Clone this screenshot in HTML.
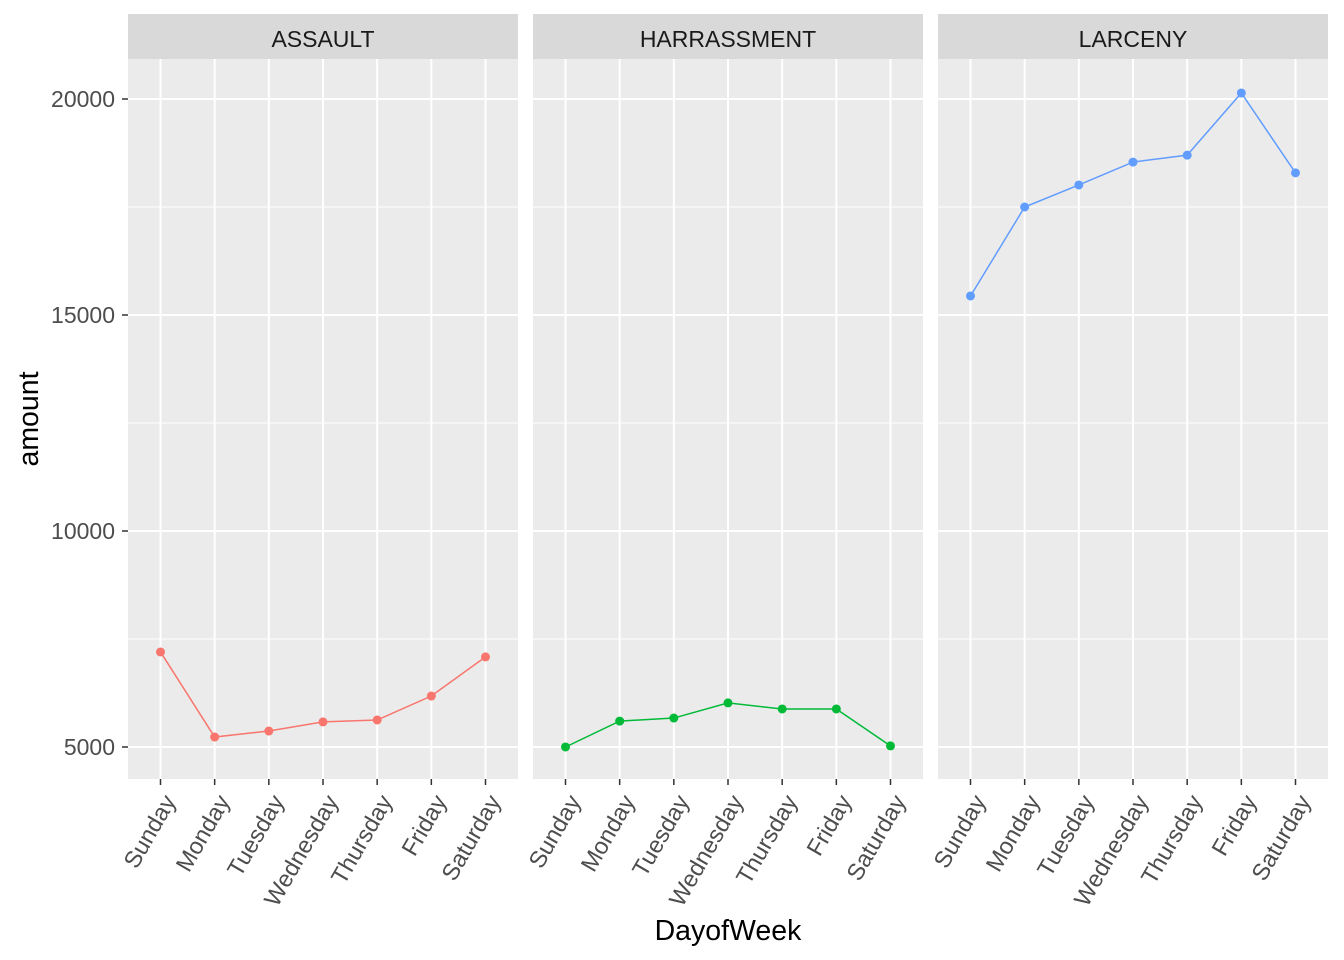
<!DOCTYPE html>
<html><head><meta charset="utf-8"><style>
body{margin:0;background:#fff;}
svg{display:block;font-family:"Liberation Sans",Arial,sans-serif;}
</style></head><body>
<svg id="chart" width="1344" height="960"></svg>
<script>
const categories=["Sunday","Monday","Tuesday","Wednesday","Thursday","Friday","Saturday"];
const panels=["ASSAULT","HARRASSMENT","LARCENY"];
const assaultValues=[7200,5230,5370,5580,5625,6180,7085];
const harassmentValues=[5000,5600,5670,6020,5880,5880,5025];
const larcenyValues=[15440,17500,18010,18540,18700,20140,18290];
const yTicks=[5000,10000,15000,20000];
const yMinor=[7500,12500,17500];
const colors=["#F8766D","#00BA38","#619CFF"];
const series=[assaultValues,harassmentValues,larcenyValues];

const NS="http://www.w3.org/2000/svg";
const svg=document.getElementById('chart');
function mk(t,a,p){const e=document.createElementNS(NS,t);for(const k in a)e.setAttribute(k,a[k]);(p||svg).appendChild(e);return e;}
const plotTop=59,plotBottom=779,yMin=4259,yMax=20926;
function y(v){return plotBottom-(v-yMin)/(yMax-yMin)*(plotBottom-plotTop);}
const panelX=[128,533,938],pw=390;
function x(p,i){return panelX[p]+(i+0.6)/7.2*pw;}

for(let p=0;p<3;p++){
  const g=mk('g',{});
  
  
  const bg=mk('rect',{x:panelX[p],y:plotTop,width:pw,height:plotBottom-plotTop,fill:'#EBEBEB'},g);
  
  
  yMinor.forEach(v=>{mk('line',{x1:panelX[p],x2:panelX[p]+pw,y1:y(v),y2:y(v),stroke:'#fff','stroke-width':1},g);});
  yTicks.forEach(v=>{mk('line',{x1:panelX[p],x2:panelX[p]+pw,y1:y(v),y2:y(v),stroke:'#fff','stroke-width':2},g);});
  categories.forEach((c,i)=>{mk('line',{x1:x(p,i),x2:x(p,i),y1:plotTop,y2:plotBottom,stroke:'#fff','stroke-width':2},g);
    mk('line',{x1:x(p,i),x2:x(p,i),y1:plotBottom,y2:plotBottom+6,stroke:'#333','stroke-width':1.5},g);
    const t=mk('text',{x:0,y:0,'font-size':23.5,fill:'#4D4D4D','text-anchor':'end',transform:`translate(${x(p,i)+16},${plotBottom+22}) rotate(-60)`},g);
    t.textContent=c;
    
    
  });
  const strip=mk('rect',{x:panelX[p],y:14,width:pw,height:45,fill:'#D9D9D9'},g);
  
  
  const st=mk('text',{x:panelX[p]+pw/2,y:47,'font-size':23,fill:'#1A1A1A','text-anchor':'middle'},g);
  st.textContent=panels[p];
  
  
  const vals=series[p];
  const line=mk('polyline',{points:vals.map((v,i)=>x(p,i)+','+y(v)).join(' '),fill:'none',stroke:colors[p],'stroke-width':1.5},g);
  
  
  vals.forEach((v,i)=>{const c=mk('circle',{cx:x(p,i),cy:y(v),r:4.5,fill:colors[p]},g);
    
    });
}
yTicks.forEach(v=>{
  mk('line',{x1:122,x2:128,y1:y(v),y2:y(v),stroke:'#333','stroke-width':1.5});
  const t=mk('text',{x:115,y:y(v)+8,'font-size':23,fill:'#4D4D4D','text-anchor':'end'});
  t.textContent=v;
  
  
});
const xt=mk('text',{x:728,y:940,'font-size':28.5,fill:'#000','text-anchor':'middle'});
xt.textContent='DayofWeek';


const yt=mk('text',{x:0,y:0,'font-size':28.5,fill:'#000','text-anchor':'middle',transform:'translate(38,419) rotate(-90)'});
yt.textContent='amount';


</script>
</body></html>
